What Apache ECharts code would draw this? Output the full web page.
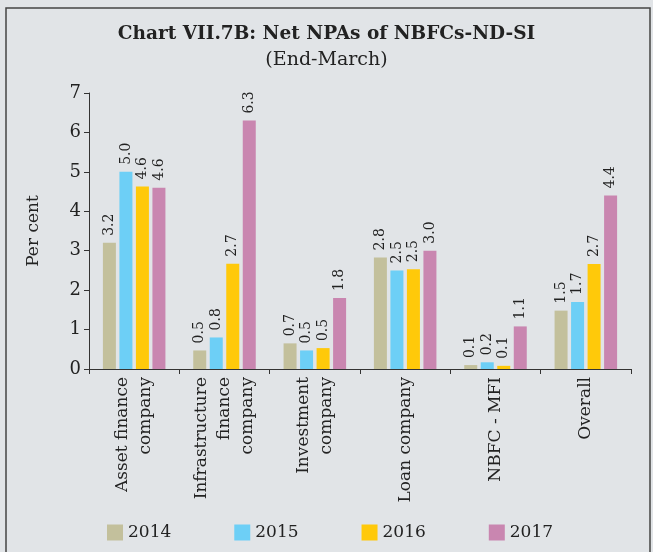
<!DOCTYPE html>
<html>
<head>
<meta charset="utf-8">
<script src="https://cdn.jsdelivr.net/npm/echarts@6/dist/echarts.min.js"></script>
<style>
  html, body { margin: 0; padding: 0; background: #e1e4e7; }
  #chart { width: 653px; height: 552px; }
</style>
</head>
<body>
<div id="chart"></div>
<script>
// categories and yearly values (per cent)
const categories = ['Asset finance\ncompany', 'Infrastructure\nfinance\ncompany', 'Investment\ncompany', 'Loan company', 'NBFC - MFI', 'Overall'];
const years = ['2014', '2015', '2016', '2017'];
const v2014 = [3.2, 0.47, 0.65, 2.83, 0.1, 1.48];
const v2015 = [5.0, 0.8, 0.47, 2.5, 0.17, 1.7];
const v2016 = [4.63, 2.67, 0.53, 2.53, 0.08, 2.66];
const v2017 = [4.6, 6.3, 1.8, 3.0, 1.08, 4.4];
const labels2014 = ['3.2', '0.5', '0.7', '2.8', '0.1', '1.5'];
const labels2015 = ['5.0', '0.8', '0.5', '2.5', '0.2', '1.7'];
const labels2016 = ['4.6', '2.7', '0.5', '2.5', '0.1', '2.7'];
const labels2017 = ['4.6', '6.3', '1.8', '3.0', '1.1', '4.4'];
const colors = ['#c3c09c', '#6dcff6', '#ffc90a', '#c986b0'];

const font = 'DejaVu Serif';
const myChart = echarts.init(document.querySelector('#chart'));

function makeSeries(name, data, labels, color) {
    return {
        name: name,
        type: 'bar',
        data: data,
        barWidth: 13,
        barGap: '27%',
        itemStyle: { color: color },
        label: {
            show: true,
            position: 'top',
            rotate: 90,
            align: 'left',
            verticalAlign: 'middle',
            distance: 7,
            color: '#222',
            fontFamily: font,
            fontSize: 14,
            formatter: p => labels[p.dataIndex]
        }
    };
}

const option = {
    backgroundColor: '#e1e4e7',
    animation: false,
    title: {
        text: 'Chart VII.7B: Net NPAs of NBFCs-ND-SI',
        subtext: '(End-March)',
        left: 'center',
        top: 20,
        itemGap: 7,
        textStyle: { fontFamily: font, fontSize: 18.5, fontWeight: 'bold', color: '#222' },
        subtextStyle: { fontFamily: font, fontSize: 19, color: '#222' }
    },
    graphic: [{
        type: 'rect',
        shape: { x: 6, y: 8, width: 644, height: 560 },
        style: { fill: null, stroke: '#444', lineWidth: 1.5 },
        silent: true
    }],
    grid: { left: 89, right: 22, top: 93, bottom: 183 },
    legend: {
        bottom: 6,
        left: 102,
        itemWidth: 16,
        itemHeight: 16,
        itemGap: 63,
        icon: 'rect',
        textStyle: { fontFamily: font, fontSize: 17, color: '#222' },
        data: years
    },
    xAxis: {
        type: 'category',
        data: categories,
        axisLine: { lineStyle: { color: '#333' } },
        axisTick: { show: true, length: 5, lineStyle: { color: '#333' } },
        axisLabel: {
            rotate: 90,
            interval: 0,
            margin: 8,
            color: '#222',
            fontFamily: font,
            fontSize: 17,
            lineHeight: 23
        }
    },
    yAxis: {
        type: 'value',
        min: 0,
        max: 7,
        interval: 1,
        name: 'Per cent',
        nameLocation: 'middle',
        nameGap: 47,
        nameTextStyle: { fontFamily: font, fontSize: 17, color: '#222' },
        axisLine: { show: true, lineStyle: { color: '#333' } },
        axisTick: { show: true, length: 5, lineStyle: { color: '#333' } },
        splitLine: { show: false },
        axisLabel: { color: '#222', fontFamily: font, fontSize: 18, margin: 8 }
    },
    series: [
        makeSeries(years[0], v2014, labels2014, colors[0]),
        makeSeries(years[1], v2015, labels2015, colors[1]),
        makeSeries(years[2], v2016, labels2016, colors[2]),
        makeSeries(years[3], v2017, labels2017, colors[3])
    ]
};
myChart.setOption(option);
</script>
</body>
</html>
